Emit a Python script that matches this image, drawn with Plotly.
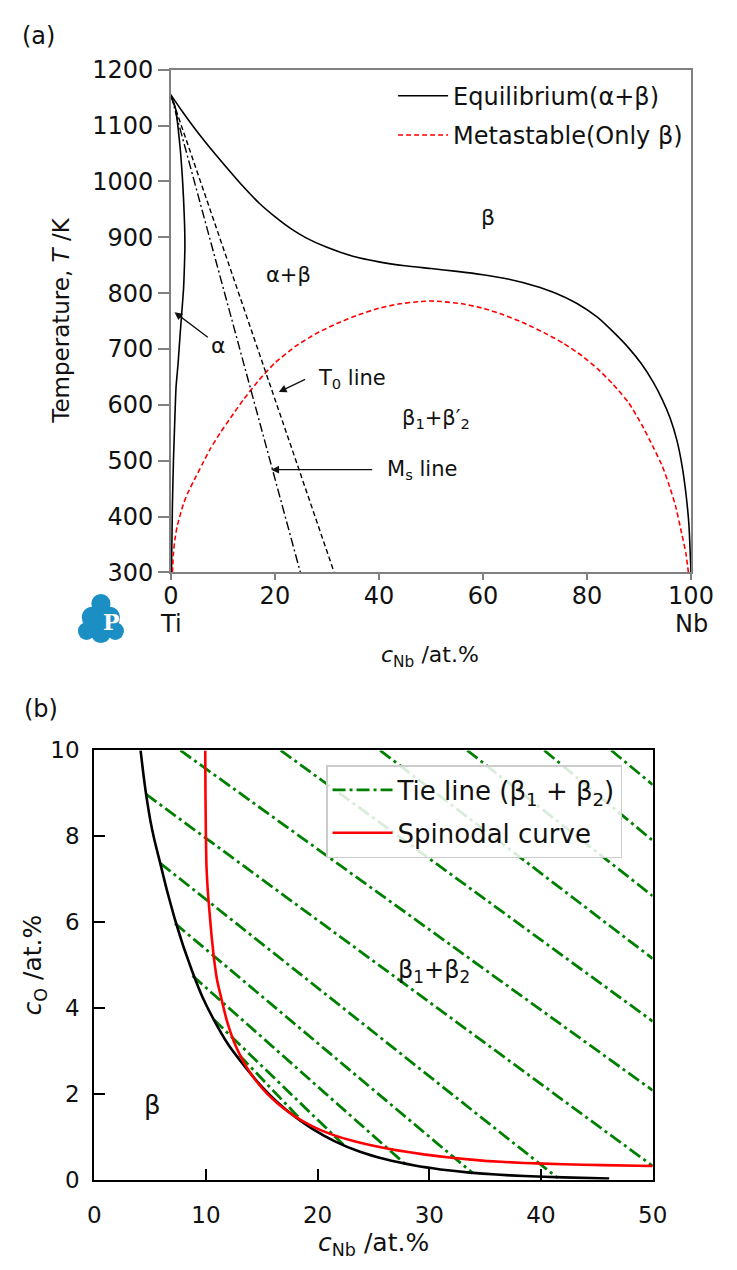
import plotly.graph_objects as go

W, H = 737, 1270
FONT = "DejaVu Sans"

# ---------------- panel (a) data ----------------
eq_upper_x = [0, 2, 5, 8, 11, 14, 17, 20, 23, 26, 30, 35, 40, 45, 50, 55, 60, 65, 70, 74, 78,
              82, 85, 88, 90.5, 92.7, 94.5, 96, 97.3, 98.3, 99.1, 99.6, 100]
eq_upper_T = [1155, 1128, 1090, 1055, 1022, 990, 961, 937, 916, 899, 882, 866, 856, 849, 844, 839,
              833, 825, 813, 800, 782, 757, 731, 702, 673, 641, 609, 576, 536, 490, 435, 385, 300]
eq_alpha_x = [0, 0.4, 0.92, 1.4, 1.84, 2.2, 2.45, 2.65, 2.7, 2.6, 2.45, 2.1, 1.75, 1.4, 1.0, 0.75,
              0.5, 0.3, 0.12]
eq_alpha_T = [1155, 1145, 1130, 1095, 1055, 1010, 967, 920, 880, 845, 809, 765, 722, 675, 632, 570,
              500, 420, 300]
meta_x = [0.3, 0.5, 0.8, 1.2, 1.8, 2.5, 3.4, 4.3, 6.0, 7.5, 9.5, 11.5, 14.0, 17.0, 20.0, 24.0, 28.0,
          32.0, 36.0, 40.0, 44.0, 48.0, 50.0, 52.0, 56.0, 60.0, 64.0, 68.0, 72.0, 75.5, 79.0, 82.0,
          85.0, 88.0, 90.5, 92.7, 94.5, 95.8, 97.0, 98.2, 99.0, 99.5]
meta_T = [300, 335, 360, 382, 403, 425, 445, 462, 493, 520, 550, 577, 610, 645, 675, 705, 728, 746,
          761, 773, 781, 785, 786, 785, 781, 773, 761, 746, 728, 710, 688, 665, 637, 604, 565, 525,
          490, 456, 420, 370, 335, 300]
t0_x = [0, 31.4]
t0_T = [1155, 300]
ms_x = [0, 24.9]
ms_T = [1155, 300]
a_xticks = [0, 20, 40, 60, 80, 100]
a_yticks = [300, 400, 500, 600, 700, 800, 900, 1000, 1100, 1200]

# ---------------- panel (b) data ----------------
bin_x = [4.15, 4.4, 4.64, 5.0, 5.4, 5.93, 6.5, 7.24, 8.0, 8.82, 9.7, 10.7, 12.0, 13.6, 15.0, 16.5,
         18.0, 19.5, 21.5, 23.8, 26.0, 28.7, 31.0, 33.6, 36.0, 38.5, 42.0, 46.1]
bin_y = [10, 9.45, 8.98, 8.4, 7.9, 7.35, 6.75, 6.05, 5.42, 4.82, 4.25, 3.73, 3.15, 2.6, 2.17, 1.78,
         1.46, 1.19, 0.9, 0.65, 0.48, 0.33, 0.24, 0.165, 0.12, 0.085, 0.055, 0.03]
spin_x = [9.94, 9.96, 10.0, 10.05, 10.15, 10.3, 10.5, 10.7, 11.0, 11.4, 11.9, 12.5, 13.1, 13.7, 14.5,
          15.5, 16.5, 18.0, 19.5, 21.0, 22.8, 25.0, 27.0, 29.5, 32.0, 35.0, 38.5, 42.0, 45.5, 50.0]
spin_y = [10, 9.0, 8.0, 7.3, 6.8, 6.3, 5.7, 5.2, 4.65, 4.2, 3.68, 3.22, 2.88, 2.6, 2.3, 2.0, 1.76,
          1.47, 1.25, 1.08, 0.93, 0.79, 0.69, 0.59, 0.51, 0.44, 0.39, 0.36, 0.34, 0.32]
tie_x0 = [46.3, 40.3, 33.4, 25.6, 16.7, 7.72, 4.63, 5.92, 7.23, 8.8, 10.7, 13.0]
tie_y0 = [10, 10, 10, 10, 10, 10, 8.98, 7.37, 5.97, 4.75, 3.73, 2.9]
tie_x1 = [50, 50, 50, 50, 50, 50, 50, 41.5, 33.9, 28.0, 22.3, 18.5]
tie_y1 = [9.2, 7.9, 6.61, 5.15, 3.69, 2.08, 0.32, 0.04, 0.15, 0.33, 0.82, 1.4]
b_xticks = [0, 10, 20, 30, 40, 50]
b_yticks = [0, 2, 4, 6, 8, 10]


def px(x):
    return x / W


def py(y):
    return 1 - y / H


fig = go.Figure()

# ----- (a) traces -----
fig.add_trace(go.Scatter(x=eq_upper_x, y=eq_upper_T, mode="lines",
                         line=dict(color="black", width=1.6, shape="spline", smoothing=0.5),
                         name="Equilibrium(α+β)", legend="legend", legendgroup="eq", xaxis="x", yaxis="y"))
fig.add_trace(go.Scatter(x=eq_alpha_x, y=eq_alpha_T, mode="lines",
                         line=dict(color="black", width=1.6, shape="spline", smoothing=0.5),
                         showlegend=False, legendgroup="eq", xaxis="x", yaxis="y"))
fig.add_trace(go.Scatter(x=meta_x, y=meta_T, mode="lines",
                         line=dict(color="#ff0000", width=1.6, dash="5px,3px", shape="spline", smoothing=0.5),
                         name="Metastable(Only β)", legend="legend", legendgroup="meta", xaxis="x", yaxis="y"))
fig.add_trace(go.Scatter(x=t0_x, y=t0_T, mode="lines", line=dict(color="black", width=1.4, dash="5px,3px"),
                         showlegend=False, xaxis="x", yaxis="y"))
fig.add_trace(go.Scatter(x=ms_x, y=ms_T, mode="lines", line=dict(color="black", width=1.4, dash="9px,3px,2px,3px"),
                         showlegend=False, xaxis="x", yaxis="y"))

# ----- (b) traces -----
for i in range(len(tie_x0)):
    fig.add_trace(go.Scatter(x=[tie_x0[i], tie_x1[i]], y=[tie_y0[i], tie_y1[i]], mode="lines",
                             line=dict(color="#008000", width=2.8, dash="13px,4px,3px,4px"),
                             name="Tie line (β<sub>1</sub> + β<sub>2</sub>)", showlegend=(i == 0),
                             legend="legend2", legendgroup="tie", xaxis="x2", yaxis="y2"))
fig.add_trace(go.Scatter(x=bin_x, y=bin_y, mode="lines",
                         line=dict(color="black", width=2.6, shape="spline", smoothing=0.4),
                         showlegend=False, xaxis="x2", yaxis="y2"))
fig.add_trace(go.Scatter(x=spin_x, y=spin_y, mode="lines",
                         line=dict(color="#ff0000", width=2.6, shape="spline", smoothing=0.4),
                         name="Spinodal curve", legend="legend2", legendgroup="spin", xaxis="x2", yaxis="y2"))

grey = "#808080"
fig.update_layout(
    width=W, height=H, margin=dict(l=0, r=0, t=0, b=0),
    paper_bgcolor="white", plot_bgcolor="white",
    font=dict(family=FONT, color="#111111"),
    xaxis=dict(domain=[px(170), px(713)], range=[0, 100], anchor="y", tickvals=a_xticks,
               showline=True, mirror=True, linecolor=grey, linewidth=1.5, ticks="outside",
               ticklen=6, tickwidth=1.5, tickcolor=grey, showgrid=False, zeroline=False,
               ticklabelstandoff=-5,
               tickfont=dict(family=FONT, size=24, color="#111111")),
    yaxis=dict(domain=[py(571), py(57)], range=[300, 1200], anchor="x", tickvals=a_yticks,
               showline=True, mirror=True, linecolor=grey, linewidth=1.5, ticks="outside",
               ticklen=11, tickwidth=1.5, tickcolor=grey, showgrid=False, zeroline=False,
               tickfont=dict(family=FONT, size=24, color="#111111")),
    xaxis2=dict(domain=[px(90), px(673)], range=[0, 50], anchor="y2", tickvals=b_xticks,
                showline=True, mirror=True, linecolor="black", linewidth=2, ticks="inside",
                ticklen=11, tickwidth=2, tickcolor="black", showgrid=False, zeroline=False,
                ticklabelstandoff=14,
                tickfont=dict(family=FONT, size=23, color="#111111")),
    yaxis2=dict(domain=[py(1192), py(753)], range=[0, 10], anchor="x2", tickvals=b_yticks,
                showline=True, mirror=True, linecolor="black", linewidth=2, ticks="inside",
                ticklen=11, tickwidth=2, tickcolor="black", showgrid=False, zeroline=False,
                ticklabelstandoff=8,
                tickfont=dict(family=FONT, size=23, color="#111111")),
    legend=dict(x=px(402), y=py(61), xanchor="left", yanchor="top", bgcolor="rgba(0,0,0,0)",
                borderwidth=0, font=dict(family=FONT, size=24, color="#111111"),
                itemwidth=50, tracegroupgap=5, traceorder="grouped"),
    legend2=dict(x=px(332), y=py(768), xanchor="left", yanchor="top",
                 bgcolor="rgba(255,255,255,0.85)", bordercolor="#cccccc", borderwidth=1.5,
                 font=dict(family=FONT, size=26, color="#111111"), itemwidth=60,
                 tracegroupgap=6, traceorder="grouped"),
)

ann = []


def text(t, x, y, size, xref="paper", yref="paper", angle=0, xanchor="center"):
    ann.append(dict(text=t, x=x, y=y, xref=xref, yref=yref, showarrow=False, textangle=angle,
                    xanchor=xanchor, yanchor="middle", font=dict(family=FONT, size=size, color="#111111")))


def arrow(xt, yt, xs, ys):
    ann.append(dict(text="", x=xt, y=yt, ax=xs, ay=ys, xref="x", yref="y", axref="x", ayref="y",
                    showarrow=True, arrowhead=2, arrowsize=1.2, arrowwidth=1.3, arrowcolor="#111111",
                    standoff=0, startstandoff=0))


# panel labels and titles
text("(a)", px(32), py(23), 24)
text("(b)", px(34), py(711), 24)
text("Temperature, <i>T</i> /K", px(55), py(314), 23, angle=-90)
text("<i>c</i><sub>Nb</sub> /at.%", px(441), py(657), 22)
text("Ti", 0, py(624), 24, xref="x")
text("Nb", 100, py(624), 24, xref="x")
text("<i>c</i><sub>O</sub> /at.%", px(27), py(972), 25, angle=-90)
text("<i>c</i><sub>Nb</sub> /at.%", px(382), py(1258), 25)

# panel (a) region labels
text("β", 61, 935, 22, xref="x", yref="y")
text("α+β", 22.6, 832, 21, xref="x", yref="y")
text("α", 9.2, 707, 22, xref="x", yref="y")
text("T<sub>0</sub> line", 27.9, 646, 21, xref="x", yref="y", xanchor="left")
text("M<sub>s</sub> line", 41.1, 484, 21, xref="x", yref="y", xanchor="left")
text("β<sub>1</sub>+β′<sub>2</sub>", 51, 575, 21, xref="x", yref="y")
arrow(0.7, 766, 7.4, 719)
arrow(20.75, 623, 26.1, 647)
arrow(19.3, 484, 39.0, 484)

# panel (b) region labels
text("β", 5.2, 1.75, 26, xref="x2", yref="y2")
text("β<sub>1</sub>+β<sub>2</sub>", 30.4, 4.85, 24, xref="x2", yref="y2")

# small publisher logo (cloud with P)
shapes = []
blue = "#1b8fc4"
for cx, cy, r in [(97, 603, 10), (88, 617, 11), (106, 617, 11), (97, 622, 13), (82, 631, 9),
                  (112, 631, 9), (97, 632, 11)]:
    shapes.append(dict(type="circle", xref="paper", yref="paper", x0=px(cx - r), x1=px(cx + r),
                       y0=py(cy + r), y1=py(cy - r), fillcolor=blue, line=dict(width=0), layer="above"))
fig.update_layout(shapes=shapes)
ann.append(dict(text="<b>P</b>", x=px(97), y=py(622), xref="paper", yref="paper", showarrow=False,
                font=dict(family="DejaVu Serif", size=22, color="white")))

fig.update_layout(annotations=ann)
fig.write_html("out.html")
